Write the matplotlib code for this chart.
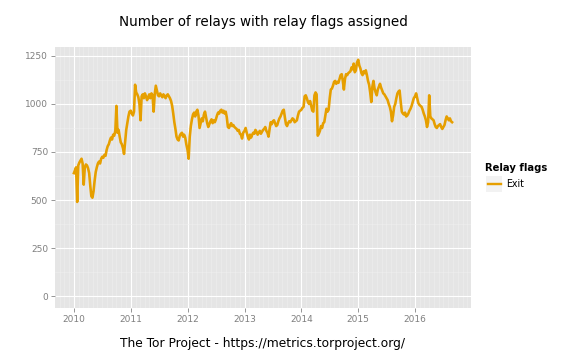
import matplotlib
matplotlib.use("Agg")
import matplotlib.pyplot as plt
import matplotlib.dates as mdates
from matplotlib.patches import Rectangle
from matplotlib.lines import Line2D
import pandas as pd

# weekly readings of relays with the Exit flag, one list per calendar year
exit_2010 = [640, 655, 670, 490, 680, 695, 705, 715, 690, 580, 670, 685, 680,
             665, 640, 575, 520, 512, 545, 600, 645, 670, 690, 700, 690, 715,
             725, 720, 735, 730, 760, 780, 790, 810, 825, 815, 840, 835, 860,
             990, 850, 865, 830, 800, 790, 770, 740, 800, 865, 900, 935, 960]
exit_2011 = [965, 950, 940, 960, 1100, 1060, 1050, 1035, 1000, 915, 1040, 1050,
             1030, 1055, 1040, 1020, 1035, 1050, 1030, 1055, 1045, 960, 1050,
             1095, 1070, 1045, 1040, 1055, 1045, 1035, 1050, 1040, 1030, 1045,
             1050, 1040, 1030, 1015, 990, 950, 905, 870, 830, 815, 810, 835,
             845, 850, 830, 840, 825, 790]
exit_2012 = [760, 715, 830, 885, 920, 945, 955, 935, 960, 970, 940, 875, 900,
             925, 910, 945, 960, 930, 900, 880, 895, 910, 920, 900, 915, 905,
             920, 940, 955, 950, 965, 970, 955, 965, 950, 960, 930, 880, 875,
             890, 900, 885, 890, 880, 875, 870, 860, 865, 845, 840, 820, 850]
exit_2013 = [860, 875, 850, 830, 815, 840, 825, 840, 850, 845, 865, 855, 840,
             850, 860, 845, 855, 865, 870, 880, 860, 850, 830, 870, 905, 895,
             910, 915, 900, 885, 890, 910, 925, 935, 950, 965, 970, 930, 895,
             885, 900, 910, 905, 915, 925, 920, 905, 910, 915, 940, 960, 965]
exit_2014 = [970, 980, 985, 1040, 1045, 1030, 1010, 1000, 1015, 990, 965, 960,
             1045, 1060, 1050, 835, 845, 860, 885, 875, 900, 905, 940, 975, 960,
             970, 1030, 1075, 1080, 1095, 1115, 1120, 1105, 1115, 1110, 1130,
             1150, 1155, 1120, 1075, 1130, 1155, 1150, 1160, 1165, 1170, 1190,
             1180, 1210, 1165, 1175, 1215]
exit_2015 = [1230, 1200, 1185, 1160, 1150, 1170, 1160, 1175, 1150, 1120, 1100,
             1060, 1010, 1090, 1120, 1080, 1060, 1045, 1075, 1090, 1105, 1085,
             1070, 1055, 1050, 1040, 1030, 1020, 1000, 985, 960, 910, 940, 985,
             1000, 1030, 1055, 1065, 1070, 1010, 960, 950, 945, 955, 935, 940,
             950, 965, 975, 990, 1010, 1030]
exit_2016 = [1040, 1055, 1030, 1005, 995, 990, 985, 970, 950, 935, 915, 880,
             905, 1045, 935, 925, 920, 915, 895, 880, 875, 885, 890, 895, 880,
             870, 880, 890, 915, 935, 925, 915, 925, 910, 905]

years = [2010, 2011, 2012, 2013, 2014, 2015, 2016]
yearly = [exit_2010, exit_2011, exit_2012, exit_2013, exit_2014, exit_2015, exit_2016]

y_ticks = [0, 250, 500, 750, 1000, 1250]
series_label = "Exit"
legend_title = "Relay flags"
title = "Number of relays with relay flags assigned"
caption = "The Tor Project - https://metrics.torproject.org/"

frames = []
for yr, vals in zip(years, yearly):
    d = pd.date_range(f"{yr}-01-01", periods=len(vals), freq="7D")
    frames.append(pd.DataFrame({"date": d, "relays": vals}))
df = pd.concat(frames, ignore_index=True)

ORANGE = "#E69F00"
GREY50 = "#7F7F7F"

fig = plt.figure(figsize=(8, 5), dpi=72)
ax = fig.add_axes([55 / 576, 1 - 308 / 360, 416 / 576, (308 - 46.7) / 360])
ax.set_facecolor("#E5E5E5")
for s in ax.spines.values():
    s.set_visible(False)

ax.plot(df["date"], df["relays"], color=ORANGE, lw=2.6, solid_joinstyle="round",
        zorder=3)

# date range with ggplot-like 5% padding
span = df["date"].max() - df["date"].min()
ax.set_xlim(df["date"].min() - span * 0.05, df["date"].max() + span * 0.05)
ax.set_ylim(-62, 1298)

ax.xaxis.set_major_locator(mdates.YearLocator())
ax.xaxis.set_major_formatter(mdates.DateFormatter("%Y"))
ax.xaxis.set_minor_locator(mdates.MonthLocator())
ax.set_yticks(y_ticks)
ax.set_yticks([125, 375, 625, 875, 1125], minor=True)

ax.grid(which="major", color="white", lw=1.1, zorder=1)
ax.grid(which="minor", color="#F0F0F0", lw=0.5, zorder=0)
ax.set_axisbelow(True)
ax.tick_params(which="major", length=4, width=0.8, color=GREY50,
               labelcolor=GREY50, labelsize=9, pad=3)
ax.tick_params(which="minor", length=0)

fig.text((55 + 471) / 2 / 576, 1 - 22 / 360, title, ha="center", va="center",
         fontsize=13.5)
fig.text((55 + 471) / 2 / 576, 1 - 343 / 360, caption, ha="center",
         va="center", fontsize=12.3)

# legend drawn by hand, ggplot style
fig.text(485 / 576, 1 - 168 / 360, legend_title, ha="left", va="center",
         fontsize=10, fontweight="bold")
fig.add_artist(Rectangle((486 / 576, 1 - 192 / 360), 16 / 576, 16 / 360,
                         transform=fig.transFigure, facecolor="#F2F2F2",
                         edgecolor="none"))
fig.add_artist(Line2D([487.5 / 576, 500.5 / 576], [1 - 184 / 360] * 2,
                      transform=fig.transFigure, color=ORANGE, lw=2.4))
fig.text(506 / 576, 1 - 184 / 360, series_label, ha="left", va="center",
         fontsize=9.5)

fig.savefig("out.png", dpi=72)
